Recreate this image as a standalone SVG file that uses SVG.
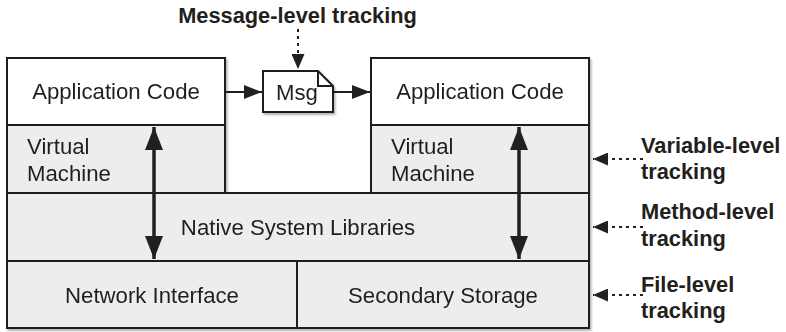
<svg xmlns="http://www.w3.org/2000/svg" width="786" height="332" viewBox="0 0 786 332">
<defs>
<style>
.box{fill:#ededed;stroke:#231f20;stroke-width:2}
.white{fill:#ffffff;stroke:#231f20;stroke-width:2}
.t{font-family:"Liberation Sans",Arial,sans-serif;font-size:22.2px;fill:#231f20}
.c{text-anchor:middle}
.b{font-family:"Liberation Sans",Arial,sans-serif;font-size:21.8px;font-weight:bold;fill:#231f20}
.thick{stroke:#231f20;stroke-width:3.5;fill:none}
.solid{stroke:#231f20;stroke-width:2;fill:none}
.dot{stroke:#231f20;stroke-width:2;fill:none;stroke-dasharray:3 4}
</style>
<filter id="sh" x="-5%" y="-5%" width="110%" height="115%">
<feDropShadow dx="1.5" dy="2" stdDeviation="1.2" flood-color="#000" flood-opacity="0.3"/>
</filter>
<marker id="big" markerUnits="userSpaceOnUse" viewBox="0 0 23 18" refX="23" refY="9" markerWidth="23" markerHeight="18" orient="auto-start-reverse">
<path d="M0,0 L23,9 L0,18 z" fill="#231f20"/>
</marker>
<marker id="med" markerUnits="userSpaceOnUse" viewBox="0 0 18 14" refX="18" refY="7" markerWidth="18" markerHeight="14" orient="auto">
<path d="M0,0 L18,7 L0,14 z" fill="#231f20"/>
</marker>
<marker id="sm" markerUnits="userSpaceOnUse" viewBox="0 0 15 13" refX="15" refY="6.5" markerWidth="15" markerHeight="13" orient="auto">
<path d="M0,0 L15,6.5 L0,13 z" fill="#231f20"/>
</marker>
</defs>
<g id="stack" filter="url(#sh)">
<g id="app-left"><rect class="white" x="7" y="58" width="218" height="67"/><text class="t c" x="116" y="99">Application Code</text></g>
<g id="vm-left"><rect class="box" x="7" y="125" width="218" height="68"/><text class="t" x="27" y="154">Virtual</text><text class="t" x="27" y="181">Machine</text></g>
<g id="app-right"><rect class="white" x="371" y="58" width="218" height="67"/><text class="t c" x="480" y="99">Application Code</text></g>
<g id="vm-right"><rect class="box" x="371" y="125" width="218" height="68"/><text class="t" x="391" y="154">Virtual</text><text class="t" x="391" y="181">Machine</text></g>
<g id="native"><rect class="box" x="7" y="193" width="582" height="68"/><text class="t c" x="298" y="235">Native System Libraries</text></g>
<g id="network"><rect class="box" x="7" y="261" width="290" height="67"/><text class="t c" x="152" y="303">Network Interface</text></g>
<g id="storage"><rect class="box" x="297" y="261" width="292" height="67"/><text class="t c" x="443" y="303">Secondary Storage</text></g>
</g>
<g id="msg" filter="url(#sh)">
<path class="white" d="M263,71 H318 L333,86 V112 H263 Z"/>
<path class="solid" d="M318,71 V86 H333" stroke-width="1.2"/>
<text class="t c" x="297" y="100">Msg</text>
</g>
<g id="labels">
<text class="b c" x="297.5" y="23">Message-level tracking</text>
<text class="b" x="641" y="153">Variable-level</text><text class="b" x="641" y="179">tracking</text>
<text class="b" x="641" y="219">Method-level</text><text class="b" x="641" y="246">tracking</text>
<text class="b" x="641" y="292">File-level</text><text class="b" x="641" y="318">tracking</text>
</g>
<g id="connectors">
<line class="thick" x1="154" y1="127" x2="154" y2="259" marker-start="url(#big)" marker-end="url(#big)"/>
<line class="thick" x1="519" y1="127" x2="519" y2="259" marker-start="url(#big)" marker-end="url(#big)"/>
<line class="solid" x1="226" y1="92" x2="262" y2="92" marker-end="url(#med)"/>
<line class="solid" x1="334" y1="92" x2="370" y2="92" marker-end="url(#med)"/>
<line class="dot" x1="298" y1="29" x2="298" y2="69" marker-end="url(#sm)"/>
<line class="dot" x1="643" y1="159" x2="593" y2="159" marker-end="url(#sm)"/>
<line class="dot" x1="643" y1="227" x2="593" y2="227" marker-end="url(#sm)"/>
<line class="dot" x1="643" y1="295" x2="593" y2="295" marker-end="url(#sm)"/>
</g>
</svg>
